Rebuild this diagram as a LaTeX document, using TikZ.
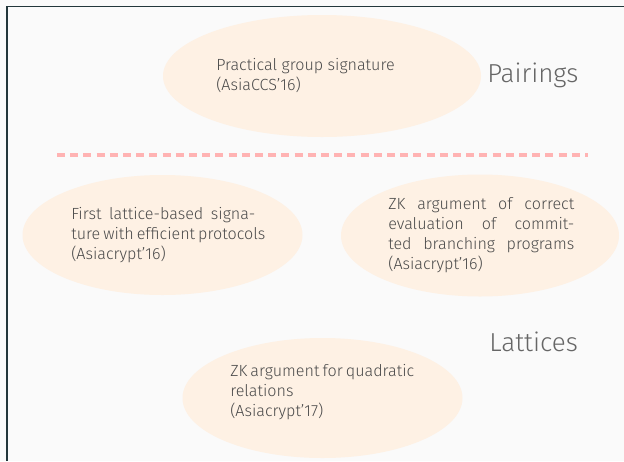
\documentclass[tikz,border=0pt]{standalone}
\usepackage{fontspec}
\setmainfont{Fira Sans Light}
\usetikzlibrary{shapes.geometric}
\definecolor{pagebg}{HTML}{FAFAFA}
\definecolor{framecol}{HTML}{23373B}
\definecolor{blobfill}{HTML}{FEF1E4}
\definecolor{bodytext}{HTML}{4A4A4A}
\definecolor{headtext}{HTML}{666666}
\definecolor{dashcol}{HTML}{FFB3B3}
\tikzset{
  blob/.style={ellipse, fill=blobfill, draw=none, inner sep=0pt},
  % multi-line blurbs are anchored at the baseline of their last line
  blurb/.style={anchor=base west, inner sep=0pt, text=bodytext,
    font=\fontsize{12.1}{15}\selectfont, align=left},
  heading/.style={anchor=base west, inner sep=0pt, text=headtext,
    font=\fontsize{19.5}{22}\selectfont},
}
\newcommand{\jline}[2]{\makebox[#1][s]{#2}}
\begin{document}
\begin{tikzpicture}[x=0.75pt,y=-0.75pt]
  \useasboundingbox (0,0) rectangle (624,461);
  \fill[pagebg] (0,0) rectangle (624,461);
  % frame corner
  \draw[framecol, line width=1.2pt] (7,461) -- (7,6.5) -- (624,6.5);

  % ellipses
  \node[blob, minimum width=238.5pt, minimum height=91.5pt] (pair) at (322,76) {};
  \node[blob, minimum width=210pt, minimum height=90pt] (sig) at (162.5,235) {};
  \node[blob, minimum width=208.5pt, minimum height=91.5pt] (bp) at (480,235.5) {};
  \node[blob, minimum width=210pt, minimum height=90pt] (quad) at (322.5,398) {};

  % separator between the two families
  \coordinate (sepL) at (57,155);
  \coordinate (sepR) at (588,155);
  \draw[dashcol, line width=2.4pt, dash pattern=on 6pt off 3.9pt] (sepL) -- (sepR);

  % headings
  \node[heading] (hp) at (487,82) {Pairings};
  \node[heading] (hl) at (489,351) {Lattices};

  % texts
  \node[blurb] (tpair) at (216,90) {Practical group signature\\(AsiaCCS’16)};
  \node[blurb] (tsig) at (71,259)
    {\jline{138pt}{First lattice-based signa-}\\
     \jline{138pt}{ture with efficient protocols}\\
     (Asiacrypt’16)};
  \node[blurb] (tbp) at (388,269)
    {\jline{139.5pt}{ZK argument of correct}\\
     \jline{139.5pt}{evaluation of commit-}\\
     \jline{139.5pt}{ted branching programs}\\
     (Asiacrypt’16)};
  \node[blurb] (tquad) at (230,416)
    {\jline{138pt}{ZK argument for quadratic}\\
     relations\\
     (Asiacrypt’17)};
\end{tikzpicture}
\end{document}
